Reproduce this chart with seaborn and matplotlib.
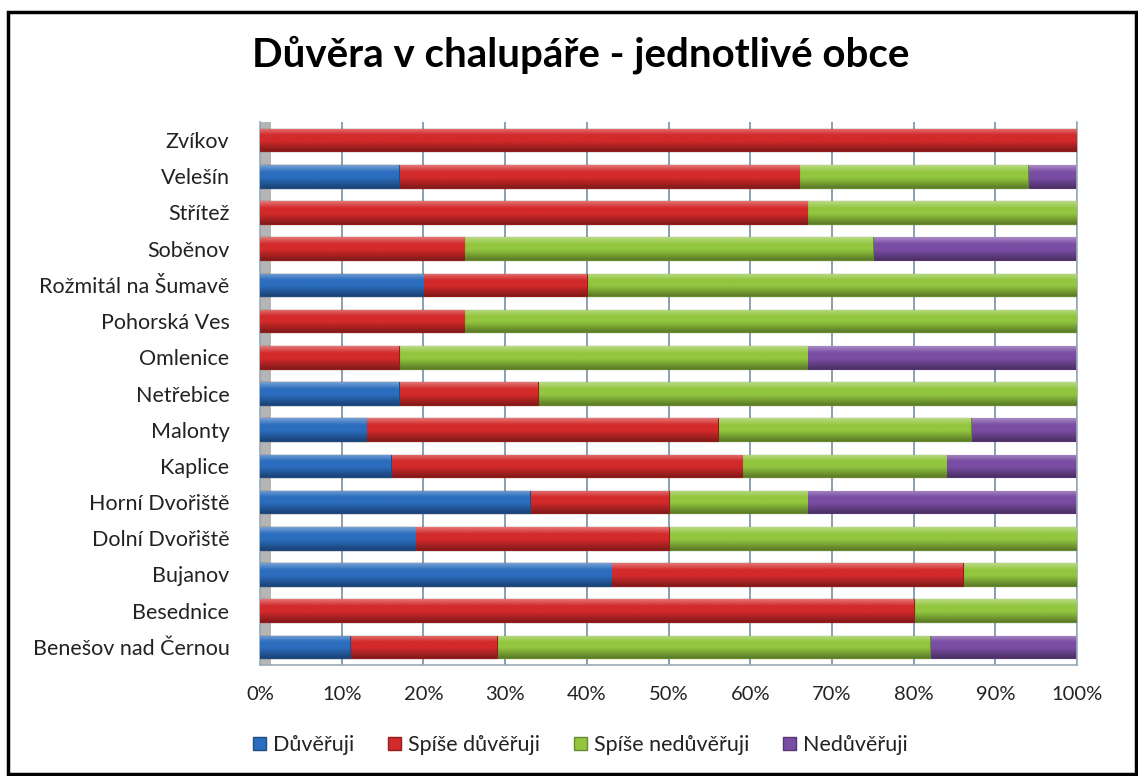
import numpy as np
import pandas as pd
import matplotlib
matplotlib.use("Agg")
import matplotlib.pyplot as plt
import matplotlib.colors as mcolors
from matplotlib.patches import Rectangle, Patch
import seaborn as sns

# ---------------- data ----------------
obce = ["Zvíkov", "Velešín", "Střítež", "Soběnov", "Rožmitál na Šumavě",
        "Pohorská Ves", "Omlenice", "Netřebice", "Malonty", "Kaplice",
        "Horní Dvořiště", "Dolní Dvořiště", "Bujanov", "Besednice",
        "Benešov nad Černou"]
duveruji          = [0, 17, 0, 0, 20, 0, 0, 17, 13, 16, 33, 19, 43, 0, 11]
spise_duveruji    = [100, 49, 67, 25, 20, 25, 17, 17, 43, 43, 17, 31, 43, 80, 18]
spise_neduveruji  = [0, 28, 33, 50, 60, 75, 50, 66, 31, 25, 17, 50, 14, 20, 53]
neduveruji        = [0, 6, 0, 25, 0, 0, 33, 0, 13, 16, 33, 0, 0, 0, 18]

series_names = ["Důvěřuji", "Spíše důvěřuji", "Spíše nedůvěřuji", "Nedůvěřuji"]
series_vals = [duveruji, spise_duveruji, spise_neduveruji, neduveruji]
series_colors = ["#2B6DBE", "#D32A2B", "#93C63F", "#7A4DA4"]
tick_vals = [0, 10, 20, 30, 40, 50, 60, 70, 80, 90, 100]
tick_labels = ["0%", "10%", "20%", "30%", "40%", "50%", "60%", "70%", "80%", "90%", "100%"]
title = "Důvěra v chalupáře - jednotlivé obce"

# ---------------- style ----------------
sns.set_theme(style="white")
plt.rcParams["font.family"] = ["Lato", "DejaVu Sans"]

W, H = 1138, 776
fig = plt.figure(figsize=(W / 100, H / 100), dpi=100)
fig.patch.set_facecolor("white")

ax = fig.add_axes([260 / W, 1 - 665 / H, 817 / W, 543 / H])

cum = np.zeros(len(obce))
cums = []
for v in series_vals:
    cum = cum + np.array(v, dtype=float)
    cums.append(cum.copy())

bar_w = 0.62
# draw cumulative bars, longest first so shorter ones sit on top
for i in range(3, -1, -1):
    d = pd.DataFrame({"obec": obce, "val": cums[i]})
    n_before = len(ax.patches)
    edge = mcolors.to_hex(np.array(mcolors.to_rgb(series_colors[i])) * 0.7)
    sns.barplot(data=d, x="val", y="obec", order=obce, orient="h",
                color=series_colors[i], saturation=1, width=bar_w,
                edgecolor=edge, linewidth=0.8, ax=ax, zorder=2 + (3 - i))
    new = ax.patches[n_before:]
    base = np.array(mcolors.to_rgb(series_colors[i]))
    light = np.clip(base + (1 - base) * 0.35, 0, 1)
    dark = base * 0.62
    # vertical gradient (cylinder-like shading)
    t = np.linspace(0, 1, 64)[:, None]
    prof = np.where(t < 0.3, 1 - t / 0.3, 0)
    prof2 = np.where(t > 0.55, (t - 0.55) / 0.45, 0)
    grad = base[None, :] * (1 - prof - prof2) + light[None, :] * prof + dark[None, :] * prof2
    img = np.repeat(grad[:, None, :], 2, axis=1)
    for p in new:
        x0, y0 = p.get_x(), p.get_y()
        w, h = p.get_width(), p.get_height()
        if w <= 0:
            p.set_visible(False)
            continue
        im = ax.imshow(img, extent=(x0, x0 + w, y0 + h, y0), aspect="auto",
                       zorder=p.get_zorder() + 0.01, interpolation="bilinear")
        im.set_clip_path(p)

# left "wall" of the 3-D chart
ax.axvspan(0, 1.4, color="#B5B5B5", zorder=0.5, lw=0)

ax.set_xlim(0, 100)
ax.set_ylim(14.5, -0.5)
ax.set_xticks(tick_vals)
ax.set_xticklabels(tick_labels, fontsize=14.5, color="#222222")
ax.tick_params(axis="x", pad=15, length=0)
ax.tick_params(axis="y", pad=22, length=0, labelsize=15.5, labelcolor="#222222")
ax.set_xlabel("")
ax.set_ylabel("")
ax.grid(axis="x", color="#8097AA", linewidth=1.3, zorder=0)
ax.set_axisbelow(True)
ax.spines["top"].set_visible(False)
for s in ["left", "right", "bottom"]:
    ax.spines[s].set_color("#9AAAB8")
    ax.spines[s].set_linewidth(1.2)

fig.text(0.51, 1 - 55 / H, title, ha="center", va="center",
         fontsize=29, fontweight="bold", color="black")

handles = [Patch(facecolor=c, edgecolor=mcolors.to_hex(np.array(mcolors.to_rgb(c)) * 0.7))
           for c in series_colors]
fig.legend(handles, series_names, loc="center", bbox_to_anchor=(0.51, 1 - 745 / H),
           ncol=4, frameon=False, fontsize=15.5, handlelength=0.6, handleheight=0.6,
           handletextpad=0.3, columnspacing=1.6, labelcolor="#222222")

# outer frame
fig.add_artist(Rectangle((8 / W, 2 / H), (W - 10) / W, (H - 14) / H,
                         transform=fig.transFigure, fill=False,
                         edgecolor="black", linewidth=2.5))

fig.savefig("out.png", dpi=100, facecolor="white")
